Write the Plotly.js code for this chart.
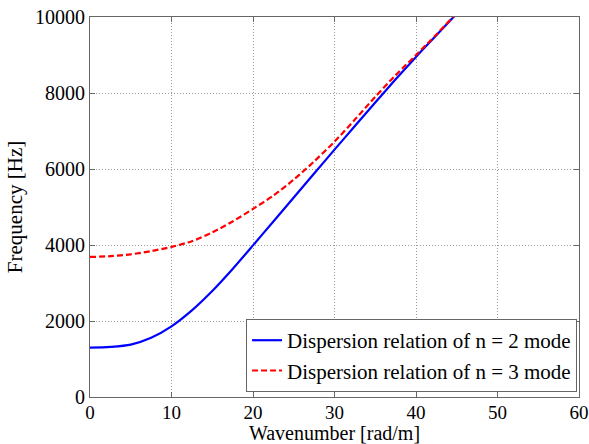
<!DOCTYPE html>
<html>
<head>
<meta charset="utf-8">
<script src="https://cdn.plot.ly/plotly-3.0.1.min.js"></script>
<style>html,body{margin:0;padding:0;background:#fff;}#chart{width:589px;height:444px;}</style>
</head>
<body>
<div id="chart"></div>
<script>
const wavenumber = [0, 2.5, 5, 7.5, 10, 12.5, 15, 17.5, 20, 22.5, 25, 27.5, 30, 32.5, 35, 37.5, 40, 42.5, 45];
const freqN2 = [1300, 1320, 1380, 1560, 1860, 2280, 2790, 3370, 3990, 4620, 5250, 5880, 6510, 7130, 7750, 8360, 8950, 9520, 10090];
const freqN3 = [3685, 3705, 3755, 3840, 3950, 4100, 4330, 4620, 4950, 5300, 5720, 6200, 6720, 7300, 7900, 8470, 9000, 9540, 10110];
const xTicks = [0, 10, 20, 30, 40, 50, 60];
const yTicks = [0, 2000, 4000, 6000, 8000, 10000];
const seriesNames = ['Dispersion relation of n = 2 mode', 'Dispersion relation of n = 3 mode'];

const serif = '"Liberation Serif", "Times New Roman", serif';
const traces = [
  {x: wavenumber, y: freqN2, name: seriesNames[0], mode: 'lines', line: {color: '#0000ff', width: 2.2, shape: 'spline', smoothing: 0.8}},
  {x: wavenumber, y: freqN3, name: seriesNames[1], mode: 'lines', line: {color: '#ff0000', width: 2.2, dash: '6px,3px', shape: 'spline', smoothing: 0.8}}
];
const axisCommon = {
  showline: true, linecolor: '#666', linewidth: 1, mirror: 'ticks',
  ticks: 'inside', ticklen: 5, tickcolor: '#666',
  showgrid: true, gridcolor: '#999', griddash: '1px,2px', gridwidth: 1,
  zeroline: false
};
const layout = {
  width: 589, height: 444,
  margin: {l: 90, r: 10, t: 17, b: 47},
  paper_bgcolor: '#fff', plot_bgcolor: '#fff',
  font: {family: serif, color: '#000'},
  showlegend: true,
  legend: {
    x: 0.996, y: 0.013, xanchor: 'right', yanchor: 'bottom',
    bgcolor: '#fff', bordercolor: '#666', borderwidth: 1,
    font: {family: serif, size: 21, color: '#000'},
    tracegroupgap: 0, itemwidth: 30
  },
  xaxis: Object.assign({}, axisCommon, {
    range: [0, 60], tickvals: xTicks, ticktext: xTicks.map(String),
    tickfont: {family: serif, size: 19, color: '#000'},
    ticklabelstandoff: -2,
    title: {text: 'Wavenumber [rad/m]', font: {family: serif, size: 20, color: '#000'}, standoff: 4}
  }),
  yaxis: Object.assign({}, axisCommon, {
    range: [0, 10000], tickvals: yTicks, ticktext: yTicks.map(String),
    tickfont: {family: serif, size: 20, color: '#000'},
    automargin: false,
    title: {text: 'Frequency [Hz]', font: {family: serif, size: 21, color: '#000'}, standoff: 6}
  })
};
Plotly.newPlot('chart', traces, layout, {staticPlot: true, displayModeBar: false});
</script>
</body>
</html>
